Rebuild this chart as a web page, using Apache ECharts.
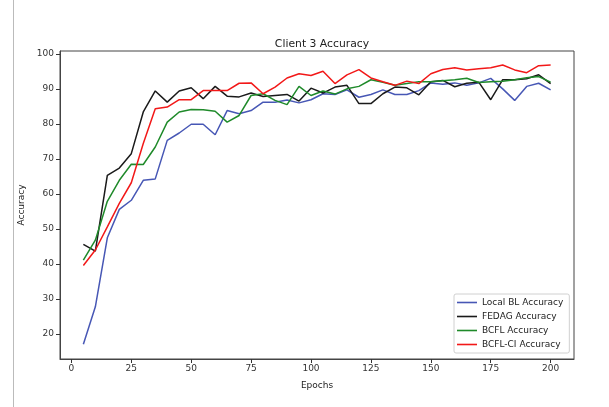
<!DOCTYPE html>
<html>
<head>
<meta charset="utf-8">
<script src="https://cdn.jsdelivr.net/npm/echarts@6/dist/echarts.min.js"></script>
<style>
html,body{margin:0;padding:0;background:#fff;}
#chart{width:609px;height:407px;}
</style>
</head>
<body>
<div id="chart"></div>
<script>
const epochs = [5,10,15,20,25,30,35,40,45,50,55,60,65,70,75,80,85,90,95,100,105,110,115,120,125,130,135,140,145,150,155,160,165,170,175,180,185,190,195,200];
const localBL = [17.1,27.8,47.5,55.6,58.2,63.9,64.3,75.3,77.4,79.9,79.9,76.9,83.8,82.9,83.8,86.2,86.2,86.8,86.0,86.9,88.6,88.4,89.7,87.6,88.4,89.7,88.4,88.4,89.5,91.7,91.3,91.7,91.0,91.7,93.0,90.0,86.7,90.7,91.6,89.7];
const fedag = [45.6,43.7,65.3,67.4,71.5,83.4,89.4,86.2,89.4,90.3,87.2,90.7,87.9,87.7,88.8,87.8,88.1,88.4,86.5,90.2,88.8,90.5,91.0,85.8,85.8,88.6,90.5,90.3,88.3,92.0,92.4,90.6,91.6,91.9,86.9,92.6,92.6,92.9,94.0,91.5];
const bcfl = [41.1,46.8,57.9,63.9,68.5,68.4,73.4,80.5,83.4,84.1,84.0,83.6,80.5,82.4,88.1,88.6,86.7,85.5,90.7,88.1,89.4,88.5,90.0,90.7,92.6,91.9,91.0,91.5,92.0,92.0,92.3,92.6,93.0,91.8,92.0,92.2,92.6,93.2,93.5,91.9];
const bcflCI = [39.6,44.0,50.6,57.3,63.2,74.4,84.3,84.8,86.9,86.9,89.5,89.5,89.5,91.6,91.7,88.6,90.5,93.1,94.3,93.8,95.0,91.5,94.0,95.5,93.1,92.0,91.0,92.2,91.5,94.3,95.5,96.0,95.4,95.7,96.0,96.8,95.4,94.6,96.6,96.8];
const xTicks = [0,25,50,75,100,125,150,175,200];
const yTicks = [20,30,40,50,60,70,80,90,100];
const seriesNames = ['Local BL Accuracy','FEDAG Accuracy','BCFL Accuracy','BCFL-CI Accuracy'];

const font = 'DejaVu Sans';
const colors = ['#4757b5','#1a1a1a','#1f8a2a','#f21818'];
const seriesData = [localBL, fedag, bcfl, bcflCI];

const chart = echarts.init(document.getElementById('chart'), null, {renderer:'canvas'});
chart.setOption({
  animation: false,
  backgroundColor: '#fff',
  title: {
    text: 'Client 3 Accuracy',
    left: 317, top: 34, textAlign: 'center',
    textStyle: {fontFamily: font, fontSize: 10.8, fontWeight: 'normal', color: '#222'}
  },
  grid: {
    left: 60, right: 35, top: 51, bottom: 48,
    show: true, borderColor: '#444', borderWidth: 1, backgroundColor: 'transparent'
  },
  legend: {
    orient: 'vertical',
    left: 454, top: 294,
    data: seriesNames,
    icon: 'rect',
    itemWidth: 20, itemHeight: 1.6,
    itemGap: 3,
    padding: [3, 6, 3, 3],
    borderColor: '#d0d0d0', borderWidth: 1, borderRadius: 2,
    backgroundColor: '#fff',
    textStyle: {fontFamily: font, fontSize: 9, color: '#222', lineHeight: 11}
  },
  xAxis: {
    type: 'value', min: -4.75, max: 209.75,
    name: 'Epochs', nameLocation: 'middle', nameGap: 22,
    nameTextStyle: {fontFamily: font, fontSize: 9, color: '#222'},
    axisLine: {show: true, onZero: false, lineStyle: {color: '#444', width: 1}},
    splitLine: {show: false},
    axisTick: {show: true, length: 4, lineStyle: {color: '#333', width: 1}, customValues: xTicks},
    axisLabel: {fontFamily: font, fontSize: 9, color: '#333', margin: 5, customValues: xTicks}
  },
  yAxis: {
    type: 'value', min: 12.9, max: 100.8,
    name: 'Accuracy', nameLocation: 'middle', nameGap: 25,
    nameTextStyle: {fontFamily: font, fontSize: 9, color: '#222'},
    axisLine: {show: true, onZero: false, lineStyle: {color: '#444', width: 1}},
    splitLine: {show: false},
    axisTick: {show: true, length: 4, lineStyle: {color: '#333', width: 1}, customValues: yTicks},
    axisLabel: {fontFamily: font, fontSize: 9, color: '#333', margin: 6, customValues: yTicks}
  },
  graphic: [{
    type: 'line', shape: {x1: 13.5, y1: 0, x2: 13.5, y2: 407},
    style: {stroke: '#bbb', lineWidth: 1}
  }],
  series: seriesNames.map((n, i) => ({
    name: n, type: 'line', symbol: 'none',
    data: epochs.map((e, k) => [e, seriesData[i][k]]),
    lineStyle: {color: colors[i], width: 1.5},
    itemStyle: {color: colors[i]}
  }))
});
</script>
</body>
</html>
